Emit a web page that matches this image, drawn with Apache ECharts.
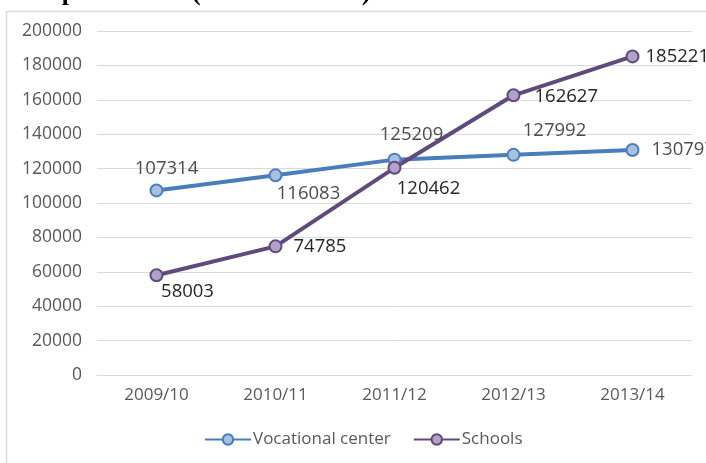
<!DOCTYPE html>
<html>
<head>
<meta charset="utf-8">
<script src="https://cdn.jsdelivr.net/npm/echarts@6/dist/echarts.min.js"></script>
<style>
  html, body { margin: 0; padding: 0; background: #fff; }
  #chart { width: 706px; height: 463px; }
</style>
</head>
<body>
<div id="chart"></div>
<script>
// 数据
const years = ['2009/10', '2010/11', '2011/12', '2012/13', '2013/14']
const vocational = [107314, 116083, 125209, 127992, 130797]
const schools = [58003, 74785, 120462, 162627, 185221]

// 每个数据标签的位置（参照原图）
const vocLabelPos = [
  { position: 'top', offset: [10, 0] },
  { position: 'bottom', offset: [33, -3] },
  { position: 'top', offset: [17, -3] },
  { position: 'top', offset: [41, -3] },
  { position: 'right', offset: [7, 0] }
]
const schLabelPos = [
  { position: 'bottom', offset: [31, -5] },
  { position: 'right', offset: [6, 0] },
  { position: 'bottom', offset: [34, -1] },
  { position: 'right', offset: [9, 1] },
  { position: 'right', offset: [1, 0] }
]

const font = 'Open Sans'
const chart = echarts.init(document.getElementById('chart'))

function withLabels (values, pos, color) {
  return values.map((v, i) => ({
    value: v,
    label: {
      show: true,
      position: pos[i].position,
      offset: pos[i].offset,
      color: color,
      fontSize: 18.5,
      fontFamily: font
    }
  }))
}

const option = {
  backgroundColor: '#fff',
  animation: false,
  graphic: [
    {
      type: 'text',
      left: -4,
      top: -20,
      style: {
        text: 'ación profesional (fuente: ISPCE)',
        font: 'bold 26px "Liberation Serif"',
        fill: '#000'
      }
    },
    {
      type: 'rect',
      shape: { x: 6.5, y: 11.5, width: 720, height: 470 },
      style: { fill: 'none', stroke: '#d9d9d9', lineWidth: 1.5 },
      z: -1
    }
  ],
  grid: {
    left: 97,
    right: 14,
    top: 31,
    bottom: 88
  },
  legend: {
    bottom: 10,
    left: 199,
    itemWidth: 46,
    itemHeight: 13,
    itemGap: 22,
    textStyle: { color: '#595959', fontSize: 17, fontFamily: font, padding: [0, 0, 0, -3] },
    data: ['Vocational center', 'Schools']
  },
  xAxis: {
    type: 'category',
    data: years,
    axisLine: { lineStyle: { color: '#d9d9d9', width: 1 } },
    axisTick: { show: false },
    axisLabel: { color: '#595959', fontSize: 17, fontFamily: font, margin: 12 }
  },
  yAxis: {
    type: 'value',
    min: 0,
    max: 200000,
    interval: 20000,
    axisLine: { show: false },
    axisTick: { show: false },
    axisLabel: {
      color: '#595959',
      fontSize: 17.5,
      fontFamily: font,
      margin: 15,
      formatter: function (value) {
        return String(value)
      }
    },
    splitLine: { lineStyle: { color: '#d9d9d9', width: 1 } }
  },
  series: [
    {
      name: 'Vocational center',
      type: 'line',
      data: withLabels(vocational, vocLabelPos, '#4d4d4d'),
      symbol: 'circle',
      symbolSize: 12,
      lineStyle: { color: '#4a7ebb', width: 4 },
      itemStyle: { color: '#a7c0de', borderColor: '#4a7ebb', borderWidth: 2 }
    },
    {
      name: 'Schools',
      type: 'line',
      data: withLabels(schools, schLabelPos, '#262626'),
      symbol: 'circle',
      symbolSize: 12,
      lineStyle: { color: '#604a7b', width: 4 },
      itemStyle: { color: '#b3a2c7', borderColor: '#604a7b', borderWidth: 2 }
    }
  ]
}
chart.setOption(option)
</script>
</body>
</html>
